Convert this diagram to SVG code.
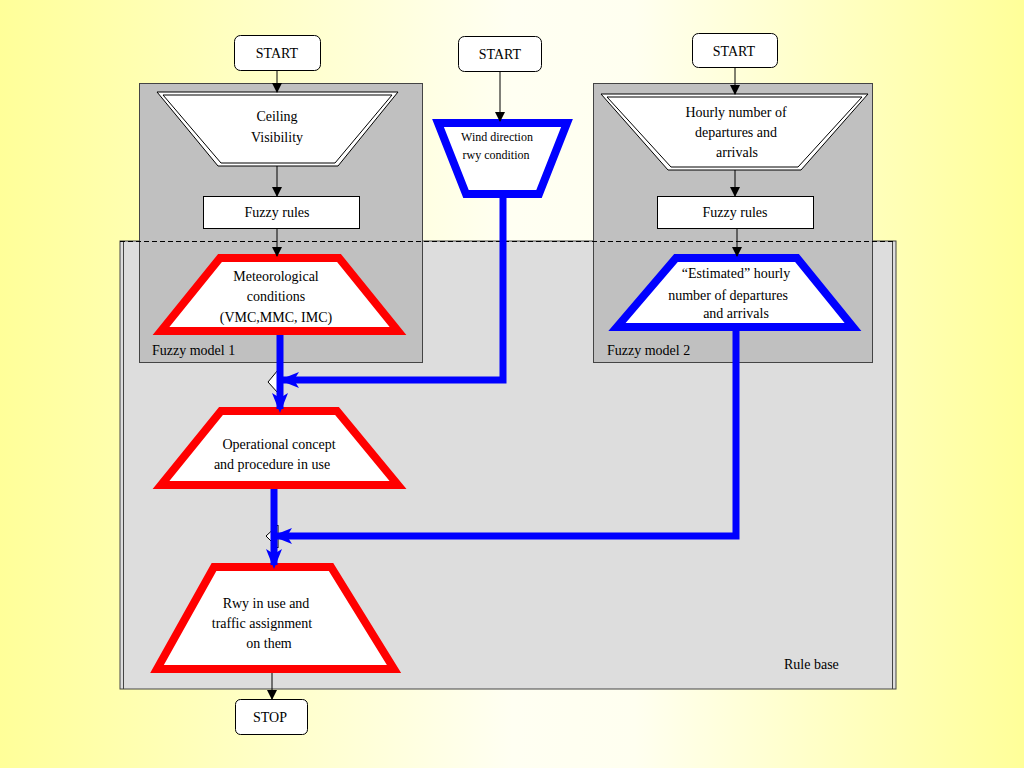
<svg xmlns="http://www.w3.org/2000/svg" width="1024" height="768" viewBox="0 0 1024 768">
<defs>
<linearGradient id="bg" x1="0" y1="0" x2="1" y2="0">
<stop offset="0" stop-color="#FFFF99"/>
<stop offset="0.5" stop-color="#FFFFF2"/>
<stop offset="0.62" stop-color="#FFFFF0"/>
<stop offset="1" stop-color="#FFFF99"/>
</linearGradient>
<marker id="ak" markerWidth="10" markerHeight="10" refX="9" refY="5" orient="auto" markerUnits="userSpaceOnUse"><path d="M0,0 L10,5 L0,10 z" fill="#000"/></marker>
<marker id="ab" markerWidth="20" markerHeight="18" refX="16" refY="9" orient="auto" markerUnits="userSpaceOnUse"><path d="M0,1 L20,9 L0,17 L5,9 z" fill="#0000FF"/></marker>
</defs>
<style>
text{font-family:"Liberation Serif","Times New Roman",serif;font-size:14px;fill:#000;text-anchor:middle}
.lbl{text-anchor:start}
.term{fill:#fff;stroke:#000;stroke-width:1}
.box{fill:#fff;stroke:#000;stroke-width:1}
.red{fill:#fff;stroke:#FF0000;stroke-width:8;stroke-linejoin:miter}
.blue{fill:#fff;stroke:#0000FF;stroke-width:8;stroke-linejoin:miter}
.dbl{fill:#fff;stroke:#000;stroke-width:1}
.k{stroke:#000;stroke-width:1;fill:none;marker-end:url(#ak)}
.b{stroke:#0000FF;stroke-width:7;fill:none;marker-end:url(#ab)}
</style>
<rect x="0" y="0" width="1024" height="768" fill="url(#bg)"/>
<g id="rule-base">
<rect x="120" y="241" width="776" height="448" fill="#DDDDDD" stroke="#444" stroke-width="1"/>
<line x1="123.5" y1="241" x2="123.5" y2="689" stroke="#444" stroke-width="1"/>
<line x1="892.5" y1="241" x2="892.5" y2="689" stroke="#444" stroke-width="1"/>
<text class="lbl" x="784" y="669">Rule base</text>
</g>
<g id="fuzzy-model-1">
<rect x="139.5" y="83.5" width="283" height="279" fill="#C0C0C0" stroke="#444" stroke-width="1"/>
<text class="lbl" x="152" y="355">Fuzzy model 1</text>
</g>
<g id="fuzzy-model-2">
<rect x="593.5" y="83.5" width="279" height="279" fill="#C0C0C0" stroke="#444" stroke-width="1"/>
<text class="lbl" x="607" y="355">Fuzzy model 2</text>
</g>
<line x1="120" y1="241.5" x2="896" y2="241.5" stroke="#000" stroke-width="1" stroke-dasharray="5,3"/>
<g id="start1"><rect class="term" x="234.5" y="35.5" width="86" height="35" rx="6"/><text x="277" y="58">START</text></g>
<g id="start2"><rect class="term" x="458.5" y="36.5" width="83" height="35" rx="6"/><text x="500" y="59">START</text></g>
<g id="start3"><rect class="term" x="692.5" y="33.5" width="85" height="34" rx="6"/><text x="734" y="56">START</text></g>
<g id="stop"><rect class="term" x="235.5" y="699.5" width="72" height="35" rx="5"/><text x="270" y="722">STOP</text></g>
<g id="ceiling">
<polygon class="dbl" points="157,92 398,92 338,166 218,166"/>
<polygon class="dbl" points="163,95 392,95 335,163 221,163"/>
<text x="277" y="121">Ceiling</text><text x="277" y="142">Visibility</text>
</g>
<g id="fuzzy-rules-1"><rect class="box" x="203.5" y="196.5" width="156" height="32"/><text x="277" y="217">Fuzzy rules</text></g>
<g id="hourly">
<polygon class="dbl" points="601,94 868,94 801,170 668,170"/>
<polygon class="dbl" points="607,97 862,97 798,167 671,167"/>
<text x="736" y="117">Hourly number of</text><text x="736" y="137">departures and</text><text x="737" y="157">arrivals</text>
</g>
<g id="fuzzy-rules-2"><rect class="box" x="657.5" y="196.5" width="156" height="32"/><text x="735" y="217">Fuzzy rules</text></g>
<g id="wind">
<polygon class="blue" points="438,123 567,123 539,194 466,194"/>
<text x="497" y="141" style="font-size:12px">Wind direction</text><text x="496" y="159" style="font-size:12px">rwy condition</text>
</g>
<g id="meteorological">
<polygon class="red" points="220,258 339,258 398,331 161,331"/>
<text x="276" y="281">Meteorological</text><text x="276" y="301">conditions</text><text x="276" y="322">(VMC,MMC, IMC)</text>
</g>
<g id="estimated">
<polygon class="blue" points="676,258 797,258 853,327 617,327"/>
<text x="736" y="278">“Estimated” hourly</text><text x="728" y="300">number of departures</text><text x="736" y="318">and arrivals</text>
</g>
<g id="operational">
<polygon class="red" points="221,411 337,411 398,485 161,485"/>
<text x="279" y="449">Operational concept</text><text x="272" y="469">and procedure in use</text>
</g>
<g id="rwy">
<polygon class="red" points="214,567 331,567 394,669 157,669"/>
<text x="266" y="608">Rwy in use and</text><text x="262" y="628">traffic assignment</text><text x="269" y="648">on them</text>
</g>
<g id="connectors">
<line class="k" x1="277" y1="70" x2="277" y2="92"/>
<line class="k" x1="277" y1="166" x2="277" y2="196"/>
<line class="k" x1="277" y1="228" x2="277" y2="256"/>
<line class="k" x1="500" y1="71" x2="500" y2="121"/>
<line class="k" x1="735" y1="67" x2="735" y2="94"/>
<line class="k" x1="735" y1="170" x2="735" y2="196"/>
<line class="k" x1="737" y1="228" x2="737" y2="256"/>
<line class="k" x1="272" y1="673" x2="272" y2="699"/>
<polygon points="278,370 268,382 278,393" fill="#fff" stroke="#000" stroke-width="1"/>
<polygon points="278,525 266,536 278,548" fill="#fff" stroke="#000" stroke-width="1"/>
<line class="b" x1="280" y1="335" x2="280" y2="409"/>
<polyline class="b" points="503,195 503,380 283,380"/>
<line class="b" x1="274" y1="489" x2="274" y2="565"/>
<polyline class="b" points="736,331 736,536 276,536"/>
</g>
</svg>
